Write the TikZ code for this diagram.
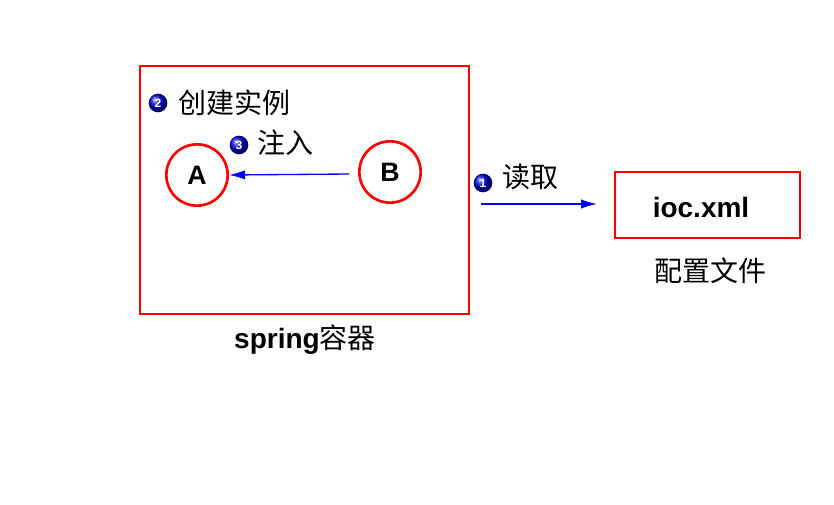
\documentclass[tikz,border=0pt]{standalone}
\usepackage{fontspec}
\setmainfont{Liberation Sans}
\newfontfamily\cjk{Noto Sans CJK SC}
\usetikzlibrary{arrows.meta}
\begin{document}
\begin{tikzpicture}[
    x=0.75pt, y=-0.75pt,
    box/.style={draw=red, line width=2.2pt},
    bean/.style={circle, draw=red, line width=2pt, minimum size=46pt, font=\fontsize{20}{22}\selectfont\bfseries},
    badge/.style={circle, inner sep=0pt, minimum size=14pt, shading=ball, ball color=blue!85!black, text=white, font=\fontsize{9}{10}\selectfont\bfseries},
    cjktext/.style={anchor=west, font=\fontsize{21}{24}\selectfont\cjk},
    link/.style={draw=blue, line width=1pt, -{Latex[length=12pt,width=7pt]}}
    ]
\useasboundingbox (0,0) rectangle (834,505);

% container
\draw[box] (140,66) rectangle (469,314);
\node[font=\fontsize{21}{24}\selectfont\bfseries] (springlbl) at (305,340) {spring{\mdseries\cjk 容器}};
\node[bean] (a) at (197,175) {A};
\node[bean] (b) at (390,172) {B};
\coordinate (bstart) at (349,174);
\draw[link] (bstart) -- (a.east);
\node[badge] (n2) at (158,103) {2};
\node[cjktext] (create) at (174,103) {创建实例};
\node[badge] (n3) at (239,145) {3};
\node[cjktext] (inject) at (253,143) {注入};

% config file
\draw[box] (615,172) rectangle (800,238);
\node[font=\fontsize{21}{24}\selectfont\bfseries] (xml) at (701,207) {ioc.xml};
\node[font=\fontsize{21}{24}\selectfont\cjk] (cfglbl) at (710,271) {配置文件};
\coordinate (readstart) at (481,204);
\coordinate (readend) at (597,204);
\draw[link] (readstart) -- (readend);
\node[badge] (n1) at (483,183) {1};
\node[cjktext] (read) at (498,177) {读取};
\end{tikzpicture}
\end{document}
